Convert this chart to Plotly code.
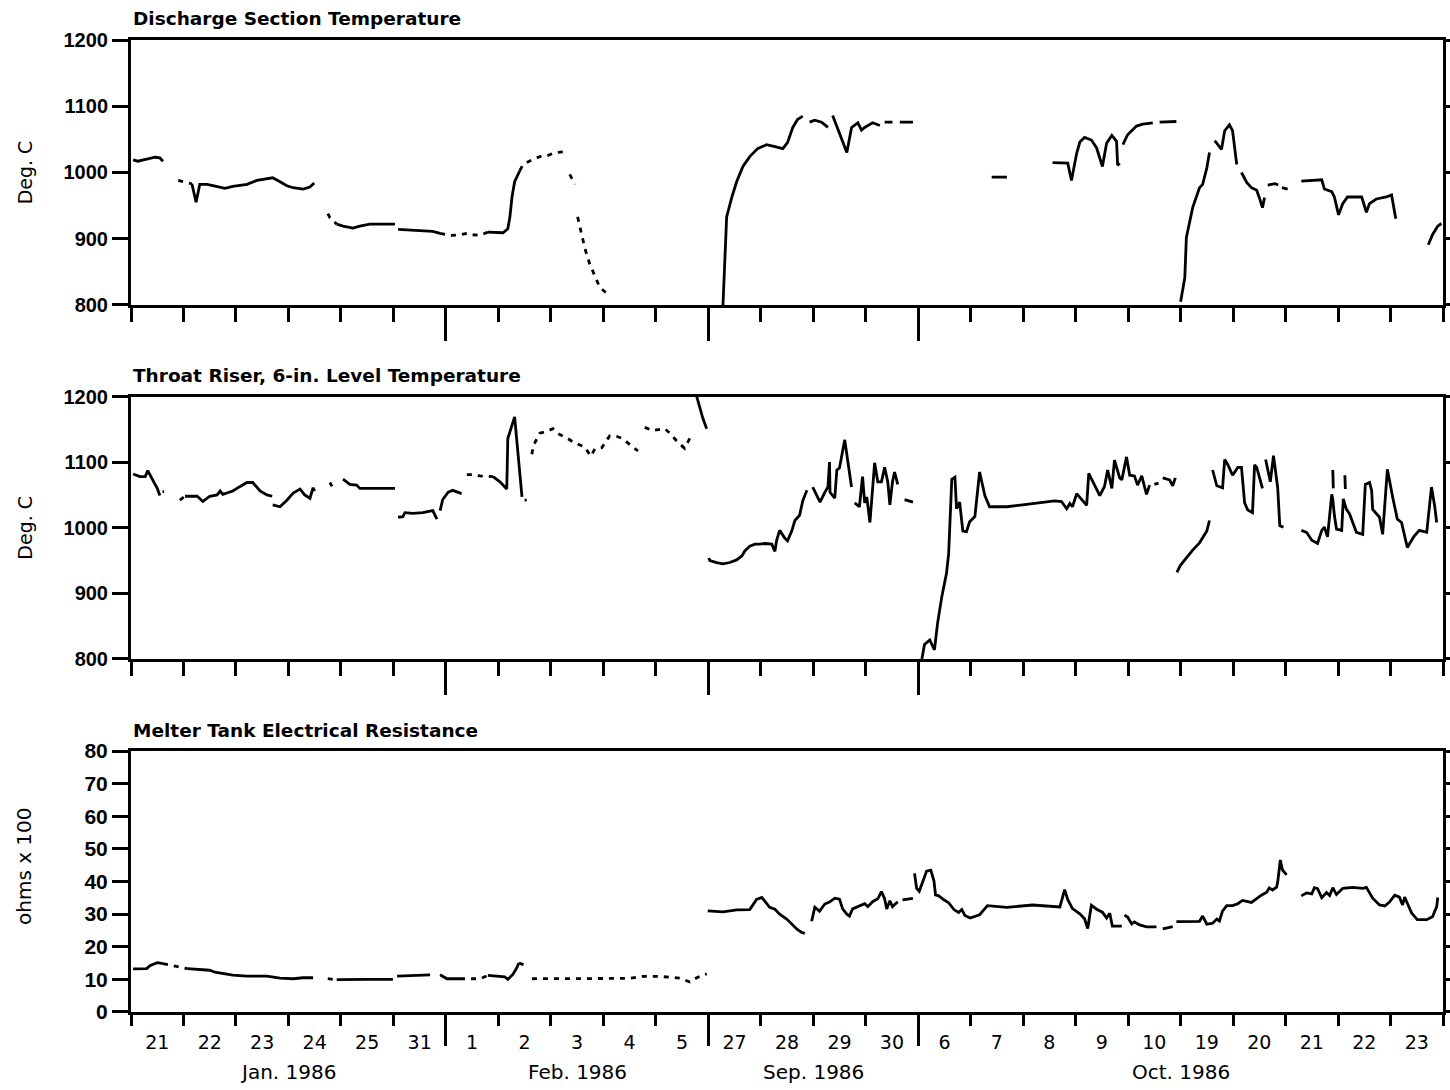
import plotly.graph_objects as go

# Compressed date axis: slot k spans [k, k+1] for the k-th charted day.
DAY_LABELS = ["21", "22", "23", "24", "25", "31", "1", "2", "3", "4", "5",
              "27", "28", "29", "30", "6", "7", "8", "9", "10", "19", "20",
              "21", "22", "23"]
MONTH_LABELS = ["Jan. 1986", "Feb. 1986", "Sep. 1986", "Oct. 1986"]
MONTH_BREAKS = [6, 11, 15]
N_DAYS = len(DAY_LABELS)

PANEL_TITLES = ["Discharge Section Temperature",
                "Throat Riser, 6-in. Level Temperature",
                "Melter Tank Electrical Resistance"]

# ---------------- Discharge section temperature (deg C) ----------------
discharge_t = [0.04, 0.13, 0.30, 0.46, 0.55, 0.61, None,
               1.16, 1.24, 1.31, 1.45, 1.56, 1.79, 1.94, 2.21, 2.40, 2.59, 2.70, 2.84, 2.97, 3.09, 3.28, 3.41, 3.49, None,
               3.92, 4.04, 4.23, 4.36, 4.55, 4.80, 5.03, None,
               5.09, 5.31, 5.56, 5.75, 5.89, None,
               6.80, 6.97, 7.09, 7.18, 7.22, 7.26, 7.31, 7.41, None,
               11.28, 11.35, 11.45, 11.54, 11.66, 11.79, 11.94, 12.11, 12.27, 12.42, 12.51, 12.61, 12.70, 12.80, None,
               12.93, 13.03, 13.16, 13.28, None,
               13.37, 13.64, 13.73, 13.85, 13.92, 13.98, 14.13, 14.27, None,
               14.36, 14.51, None,
               14.65, 14.90, None,
               16.40, 16.69, None,
               17.56, 17.85, 17.92, 18.02, 18.08, 18.17, 18.30, 18.40, 18.51, 18.59, 18.69, 18.78, 18.80, 18.84, None,
               18.90, 18.99, 19.16, 19.28, 19.47, None,
               19.60, 19.92, None,
               20.00, 20.08, 20.11, 20.23, 20.36, 20.42, 20.50, 20.55, None,
               20.65, 20.78, 20.84, 20.93, 20.99, 21.07, None,
               21.16, 21.26, 21.35, 21.45, 21.50, 21.56, 21.60, None,
               21.66, 21.80, 21.86, None,
               21.93, 22.04, None,
               22.30, 22.69, 22.74, 22.88, 22.93, 23.01, 23.09, 23.18, 23.45, 23.54, 23.60, 23.73, 23.92, 24.02, 24.10, None,
               24.72, 24.80, 24.90, 24.97]
discharge_c = [1019, 1017, 1020, 1023, 1022, 1017, None,
               983, 955, 982, 982, 980, 976, 979, 982, 988, 991, 992, 986, 980, 977, 975, 978, 984, None,
               922, 919, 916, 919, 922, 922, 922, None,
               914, 913, 911, 911, 908, None,
               910, 909, 909, 915, 933, 963, 986, 1003, None,
               800, 933, 963, 986, 1009, 1024, 1036, 1042, 1039, 1036, 1045, 1068, 1080, 1085, None,
               1076, 1079, 1076, 1068, None,
               1086, 1030, 1068, 1075, 1064, 1068, 1075, 1071, None,
               1076, 1076, None,
               1076, 1076, None,
               993, 993, None,
               1015, 1014, 988, 1029, 1046, 1053, 1049, 1037, 1009, 1044, 1056, 1047, 1011, 1014, None,
               1042, 1057, 1070, 1073, 1075, None,
               1076, 1077, None,
               805, 841, 902, 947, 977, 982, 1007, 1030, None,
               1048, 1035, 1063, 1072, 1063, 1012, None,
               1000, 985, 977, 973, 962, 947, 962, None,
               981, 983, 981, None,
               977, 975, None,
               987, 989, 975, 971, 963, 936, 953, 963, 963, 940, 953, 960, 963, 966, 930, None,
               891, 906, 919, 923]
# sparse (dotted) stretches of the same record
discharge_dot_t = [0.90, 1.07, 1.16, None, 3.75, 3.79, 3.92, None,
                   5.89, 6.10, 6.27, 6.40, 6.51, 6.65, 6.80, None,
                   7.41, 7.47, 7.64, 7.79, 7.92, 8.08, 8.23, None,
                   8.36, 8.46, None, 8.51, 8.65, 8.74, 8.84, 8.93, 9.10]
discharge_dot_c = [988, 985, 983, None, 938, 932, 922, None,
                   908, 905, 906, 908, 906, 905, 910, None,
                   1003, 1012, 1019, 1024, 1025, 1030, 1031, None,
                   997, 982, None, 933, 885, 862, 844, 827, 815]

# ---------------- Throat riser, 6-in. level temperature (deg C) ----------------
throat_t = [0.04, 0.17, 0.27, 0.32, 0.40, 0.50, 0.55, None,
            1.03, 1.26, 1.37, 1.50, 1.64, 1.70, 1.75, 1.94, 2.08, 2.21, 2.32, 2.46, 2.59, 2.69, None,
            2.70, 2.84, 2.97, 3.09, 3.22, 3.31, 3.41, 3.47, 3.50, None,
            4.04, 4.17, 4.30, 4.36, 4.50, 4.69, 5.03, None,
            5.09, 5.18, 5.22, 5.37, 5.56, 5.75, 5.83, None,
            5.89, 5.94, 6.04, 6.13, 6.30, None,
            6.90, 7.03, 7.16, 7.18, 7.31, 7.37, 7.45, None,
            10.78, 10.84, 10.90, 10.97, None,
            11.01, 11.03, 11.16, 11.28, 11.41, 11.54, 11.64, 11.70, 11.79, 11.89, 11.98, 12.08, 12.21, 12.27,
            12.30, 12.36, 12.46, 12.51, 12.59, 12.65, 12.74, 12.80, 12.88, None,
            12.99, 13.13, 13.22, 13.28, 13.31, 13.32, 13.41, 13.45, 13.50, 13.60, 13.73, None,
            13.79, 13.88, 13.94, 13.98, 14.02, 14.08, 14.17, 14.23, 14.30, 14.36, 14.42, 14.46, 14.51, 14.55, 14.61, None,
            14.74, 14.90, None,
            15.07, 15.12, 15.22, 15.31, 15.37, 15.45, 15.54, 15.58, 15.64, 15.70, 15.73, 15.79, 15.85, 15.92,
            15.98, 16.08, 16.17, 16.27, 16.36, 16.69, 16.99, 17.31, 17.60, 17.73, 17.83, 17.89, 17.94, 18.02,
            18.11, 18.21, 18.25, 18.32, 18.46, 18.55, 18.61, 18.69, 18.74, 18.84, 18.88, 18.97, 19.03, 19.12,
            19.18, 19.26, 19.35, 19.41, None,
            19.50, 19.58, None,
            19.66, 19.79, 19.85, 19.90, None,
            19.93, 19.99, 20.11, 20.23, 20.36, 20.50, 20.55, None,
            20.61, 20.69, 20.80, 20.84, 20.90, 20.99, 21.09, 21.16, 21.22, 21.28, 21.37, 21.41, 21.45, 21.50, 21.56, None,
            21.62, 21.71, 21.77, 21.85, 21.89, 21.96, None,
            22.30, 22.40, 22.50, 22.61, 22.69, 22.74, 22.80, 22.88, 22.90, 22.93, 22.97, 23.07, 23.10, 23.16,
            23.22, 23.35, 23.47, 23.52, 23.60, 23.64, 23.66, 23.79, 23.85, 23.94, 24.04, 24.13, 24.21, 24.32,
            24.44, 24.55, 24.69, 24.78, 24.84, 24.88, None,
            22.90, 22.91, None,
            23.13, 23.14]
throat_c = [1082, 1078, 1078, 1087, 1075, 1060, 1049, None,
            1048, 1048, 1040, 1048, 1050, 1056, 1051, 1056, 1063, 1069, 1069, 1056, 1050, 1048, None,
            1035, 1032, 1042, 1053, 1059, 1050, 1045, 1061, 1056, None,
            1074, 1066, 1065, 1060, 1060, 1060, 1060, None,
            1016, 1017, 1023, 1022, 1023, 1026, 1013, None,
            1026, 1043, 1054, 1057, 1052, None,
            1078, 1070, 1059, 1136, 1169, 1111, 1047, None,
            1200, 1183, 1166, 1151, None,
            954, 950, 947, 945, 947, 951, 957, 965, 972, 975, 975, 976, 975, 964,
            980, 996, 984, 980, 995, 1011, 1019, 1041, 1057, None,
            1062, 1039, 1054, 1062, 1100, 1054, 1045, 1088, 1091, 1134, 1062, None,
            1038, 1032, 1078, 1038, 1047, 1008, 1099, 1070, 1070, 1092, 1070, 1035, 1070, 1085, 1066, None,
            1043, 1039, None,
            800, 822, 829, 814, 855, 895, 931, 960, 1074, 1077, 1029, 1039, 995, 994,
            1009, 1017, 1085, 1049, 1032, 1032, 1035, 1038, 1041, 1040, 1029, 1037, 1032, 1052,
            1044, 1034, 1083, 1071, 1049, 1063, 1088, 1060, 1103, 1076, 1073, 1108, 1080, 1079,
            1065, 1079, 1051, 1065, None,
            1066, 1068, None,
            1076, 1073, 1064, 1076, None,
            932, 942, 954, 966, 977, 995, 1011, None,
            1088, 1064, 1061, 1104, 1096, 1080, 1092, 1092, 1038, 1027, 1023, 1096, 1092, 1076, 1060, None,
            1104, 1070, 1110, 1061, 1003, 1001, None,
            996, 993, 981, 976, 996, 1001, 986, 1051, 1044, 1019, 998, 996, 1044, 1028,
            1021, 993, 990, 1066, 1069, 1057, 1028, 1016, 990, 1089, 1047, 1013, 1008, 970,
            986, 996, 993, 1062, 1034, 1008, None,
            1088, 1060, None,
            1080, 1059]
throat_dot_t = [0.60, 0.63, None, 0.93, 1.03, None, 3.79, 3.83, None,
                6.40, 6.51, 6.65, 6.84, 6.90, None, 7.50, 7.54, None,
                7.64, 7.66, 7.79, 7.92, 8.04, 8.17, 8.30, 8.42, 8.55, 8.65, 8.76, 8.84, 8.97,
                9.12, 9.26, 9.37, 9.50, 9.66, None,
                9.79, 9.94, 10.08, 10.17, 10.27, 10.40, 10.55, 10.69]
throat_dot_c = [1055, 1055, None, 1042, 1048, None, 1069, 1063, None,
                1081, 1081, 1079, 1079, 1078, None, 1042, 1042, None,
                1112, 1124, 1144, 1147, 1151, 1142, 1137, 1131, 1126, 1123, 1109, 1120, 1122,
                1140, 1139, 1136, 1127, 1117, None,
                1153, 1148, 1150, 1151, 1144, 1132, 1121, 1143]

# ---------------- Melter tank electrical resistance (ohms x 100) ----------------
resist_t = [0.04, 0.30, 0.36, 0.50, 0.61, None,
            1.07, 1.31, 1.50, 1.60, 1.94, 2.21, 2.59, 2.84, 3.09, 3.28, 3.47, None,
            3.92, 4.23, 4.50, 4.99, None,
            5.07, 5.70, None,
            5.89, 6.02, 6.27, None,
            6.80, 7.12, 7.18, 7.28, 7.35, 7.39, None,
            10.99, 11.28, 11.54, 11.79, 11.92, 12.02, 12.08, 12.17, 12.27, 12.36, 12.50, 12.59, 12.69, 12.78, 12.84, None,
            12.97, 13.03, 13.12, 13.22, 13.31, 13.41, 13.50, 13.56, 13.64, 13.69, 13.75, 13.88, 13.98, 14.04,
            14.13, 14.23, 14.30, 14.36, 14.40, 14.46, 14.51, 14.61, None,
            14.70, 14.90, None,
            14.93, 14.97, 15.02, 15.16, 15.24, 15.30, 15.33, 15.39, 15.49, 15.58, 15.68, 15.77, 15.83, 15.89,
            15.99, 16.17, 16.32, 16.69, 17.18, 17.70, 17.79, 17.85, 17.94, 18.08, 18.17, 18.23, 18.30, 18.40,
            18.51, 18.59, 18.65, 18.70, 18.88, None,
            18.93, 18.99, 19.07, 19.12, 19.22, 19.35, 19.54, None,
            19.66, 19.85, None,
            19.92, 20.36, 20.42, 20.50, 20.61, 20.69, 20.74, 20.80, 20.88, 20.99, 21.09, 21.18, 21.35, 21.45,
            21.54, 21.64, 21.69, 21.75, 21.83, 21.85, 21.90, 21.94, 22.02, None,
            22.30, 22.40, 22.50, 22.55, 22.61, 22.69, 22.78, 22.84, 22.90, 22.97, 23.09, 23.28, 23.47, 23.54,
            23.66, 23.79, 23.89, 23.98, 24.08, 24.17, 24.23, 24.27, 24.31, 24.40, 24.51, 24.69, 24.80, 24.88, 24.90]
resist_v = [13.2, 13.3, 14.2, 15.1, 14.8, None,
            13.3, 13.1, 12.8, 12.2, 11.3, 11.0, 11.0, 10.4, 10.2, 10.5, 10.5, None,
            9.9, 10.0, 10.0, 10.0, None,
            11.0, 11.4, None,
            11.4, 10.2, 10.2, None,
            11.2, 10.8, 10.0, 11.6, 13.5, 15.0, None,
            31.0, 30.7, 31.3, 31.4, 34.5, 35.1, 33.9, 32.1, 31.5, 30.0, 28.4, 26.9, 25.4, 24.4, 24.1, None,
            27.8, 32.1, 30.9, 33.1, 33.7, 34.9, 34.6, 31.6, 30.0, 29.4, 31.6, 32.5, 33.2, 32.3,
            33.8, 34.7, 36.9, 34.7, 31.6, 34.1, 32.3, 33.8, None,
            34.4, 34.8, None,
            42.5, 37.9, 37.0, 43.2, 43.5, 40.2, 35.9, 35.6, 34.4, 33.5, 31.4, 30.5, 31.4, 29.6,
            28.8, 29.8, 32.6, 32.1, 32.8, 32.2, 37.5, 34.4, 31.7, 30.1, 28.6, 25.6, 32.7, 31.5,
            30.6, 28.8, 30.3, 26.3, 26.3, None,
            29.7, 29.1, 27.0, 27.6, 26.7, 26.1, 26.1, None,
            25.5, 26.2, None,
            27.7, 27.8, 29.4, 26.9, 27.2, 28.5, 27.9, 31.0, 32.6, 32.6, 33.2, 34.2, 33.6, 34.8,
            35.8, 36.7, 38.0, 37.4, 38.3, 39.8, 46.6, 43.6, 42.0, None,
            35.6, 36.5, 36.2, 38.1, 37.8, 35.0, 36.6, 35.7, 38.1, 36.0, 37.9, 38.2, 37.9, 38.2,
            34.9, 32.8, 32.5, 33.7, 35.8, 35.2, 32.8, 35.2, 33.7, 30.4, 28.3, 28.3, 29.2, 32.3, 35.1]
resist_dot_t = [0.61, 0.78, 0.93, 1.07, None, 3.75, 3.92, None,
                6.27, 6.46, 6.65, 6.80, None, 7.39, 7.50, None,
                7.64, 8.17, 8.55, 8.93, 9.28, 9.50, 9.75, 10.08, 10.46, 10.65, 10.78, 10.97]
resist_dot_v = [14.8, 14.2, 13.6, 13.3, None, 10.2, 9.9, None,
                10.2, 10.2, 10.2, 11.2, None, 15.0, 14.4, None,
                10.2, 10.2, 10.2, 10.3, 10.3, 10.3, 10.9, 10.9, 10.4, 9.2, 10.5, 11.7]

# ---------------- styling ----------------
INK = "black"
LINE_W = 2.8
DOTTED = "5px,6px"
FIG_W, FIG_H = 1450, 1090
MARGIN = dict(l=131, r=7, t=40, b=78, pad=0, autoexpand=False)
DOMAINS = [[0.7274, 1.0], [0.3632, 0.6332], [0.0, 0.2685]]
PLOT_W = FIG_W - MARGIN["l"] - MARGIN["r"]
PLOT_H = FIG_H - MARGIN["t"] - MARGIN["b"]

fig = go.Figure()


def add_record(t, v, row, dash="solid"):
    fig.add_trace(go.Scatter(
        x=t, y=v, mode="lines", connectgaps=False,
        xaxis="x" if row == 1 else f"x{row}",
        yaxis="y" if row == 1 else f"y{row}",
        line=dict(color=INK, width=LINE_W, dash=dash),
        showlegend=False, hoverinfo="skip"))


add_record(discharge_t, discharge_c, 1)
add_record(discharge_dot_t, discharge_dot_c, 1, DOTTED)
add_record(throat_t, throat_c, 2)
add_record(throat_dot_t, throat_dot_c, 2, DOTTED)
add_record(resist_t, resist_v, 3)
add_record(resist_dot_t, resist_dot_v, 3, DOTTED)
# carrier for the day-label axis under the bottom panel
fig.add_trace(go.Scatter(x=[], y=[], xaxis="x4", yaxis="y3",
                         showlegend=False, hoverinfo="skip"))


def x_axis(row, long_len, short_len):
    return dict(
        domain=[0, 1], anchor="y" if row == 1 else f"y{row}",
        range=[0, N_DAYS], showline=True, linewidth=3, linecolor=INK,
        mirror=True, showgrid=False, zeroline=False,
        tickmode="array", tickvals=MONTH_BREAKS, ticks="outside",
        ticklen=long_len, tickwidth=2.5, tickcolor=INK, showticklabels=False,
        minor=dict(tickmode="linear", tick0=0, dtick=1, ticks="outside",
                   ticklen=short_len, tickwidth=2.5, tickcolor=INK,
                   showgrid=False))


def y_axis(row, rng, vals, title, standoff, tick_size):
    return dict(
        domain=DOMAINS[row - 1], anchor="x" if row == 1 else f"x{row}",
        range=rng, showline=True, linewidth=3, linecolor=INK,
        mirror="ticks", showgrid=False, zeroline=False,
        tickmode="array", tickvals=vals, ticks="outside", ticklen=16,
        tickwidth=2.5, tickcolor=INK,
        tickfont=dict(family="Liberation Sans", size=tick_size, color=INK,
                      weight="bold"),
        title=dict(text=title, standoff=standoff,
                   font=dict(family="DejaVu Sans", size=19, color=INK)))


temp_ticks = [800, 900, 1000, 1100, 1200]
ohm_ticks = list(range(0, 90, 10))

fig.update_layout(
    width=FIG_W, height=FIG_H, autosize=False, margin=MARGIN,
    paper_bgcolor="white", plot_bgcolor="white", showlegend=False,
    xaxis=x_axis(1, 33, 14),
    xaxis2=x_axis(2, 33, 14),
    xaxis3=x_axis(3, 31, 11),
    xaxis4=dict(overlaying="x3", anchor="y3", side="bottom",
                range=[0, N_DAYS], showline=False, showgrid=False,
                zeroline=False, tickmode="array",
                tickvals=[k + 0.5 for k in range(N_DAYS)],
                ticktext=DAY_LABELS, ticks="outside", ticklen=13,
                tickcolor="rgba(0,0,0,0)",
                tickfont=dict(family="DejaVu Sans", size=19, color=INK)),
    yaxis=y_axis(1, [800, 1200], temp_ticks, "Deg. C", 26, 20),
    yaxis2=y_axis(2, [800, 1200], temp_ticks, "Deg. C", 26, 20),
    yaxis3=y_axis(3, [0, 80], ohm_ticks, "", 0, 21),
)

# resistance axis caption, set a little above the panel centre
fig.add_annotation(text="ohms x 100", xref="paper", yref="paper",
                   x=-107 / PLOT_W, y=146 / PLOT_H, textangle=-90,
                   xanchor="center", yanchor="middle", showarrow=False,
                   font=dict(family="DejaVu Sans", size=20, color=INK))

# panel headings, just above each frame
for title, dom in zip(PANEL_TITLES, DOMAINS):
    fig.add_annotation(text=title, xref="paper", yref="paper",
                       x=0, xanchor="left", y=dom[1] + 21 / PLOT_H,
                       yanchor="middle", showarrow=False,
                       font=dict(family="DejaVu Sans", size=18.5, color=INK,
                                 weight="bold"))

# month names centred under their runs of days
edges = [0] + MONTH_BREAKS + [N_DAYS]
for name, a, b in zip(MONTH_LABELS, edges[:-1], edges[1:]):
    fig.add_annotation(text=name, xref="x3", yref="paper",
                       x=(a + b) / 2, y=-60 / PLOT_H, yanchor="middle",
                       showarrow=False,
                       font=dict(family="DejaVu Sans", size=20, color=INK))

fig.write_html("out.html", config={"displayModeBar": False})
